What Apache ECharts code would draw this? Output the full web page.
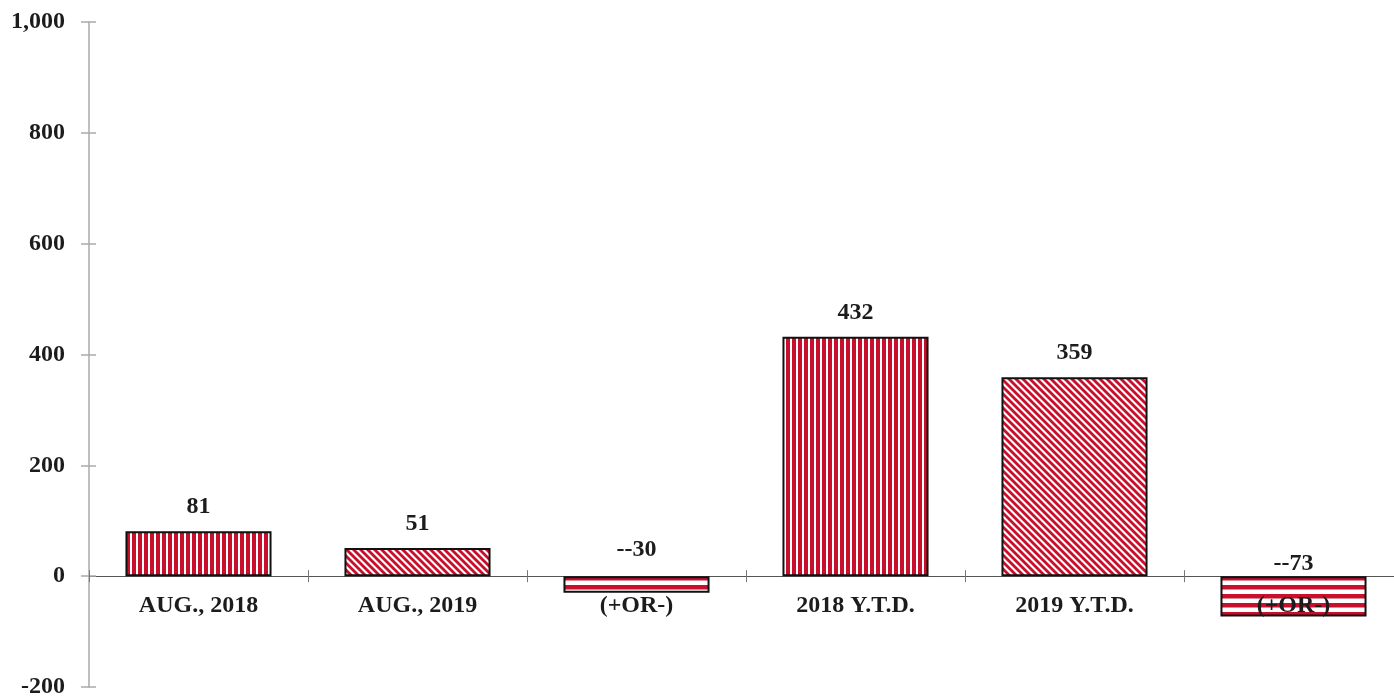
<!DOCTYPE html>
<html>
<head>
<meta charset="utf-8">
<script src="https://cdn.jsdelivr.net/npm/echarts@6/dist/echarts.min.js"></script>
<style>
html,body{margin:0;padding:0;background:#fff;}
#chart{width:1394px;height:698px;}
</style>
</head>
<body>
<div id="chart"></div>
<script>
const categories = ['AUG., 2018', 'AUG., 2019', '(+OR-)', '2018 Y.T.D.', '2019 Y.T.D.', '(+OR-)'];
const values = [81, 51, -30, 432, 359, -73];
const yTicks = { min: -200, max: 1000, interval: 200 };
const patternKinds = ['vertical', 'diagonal', 'horizontal', 'vertical', 'diagonal', 'horizontal'];

const RED = '#c80f2c';
function makePattern(kind) {
  const c = document.createElement('canvas');
  let ctx;
  if (kind === 'vertical') {
    c.width = 6; c.height = 6; ctx = c.getContext('2d');
    ctx.fillStyle = '#fff'; ctx.fillRect(0, 0, 6, 6);
    ctx.fillStyle = RED; ctx.fillRect(0, 0, 4, 6);
  } else if (kind === 'horizontal') {
    c.width = 6; c.height = 9; ctx = c.getContext('2d');
    ctx.fillStyle = '#fff'; ctx.fillRect(0, 0, 6, 9);
    ctx.fillStyle = RED; ctx.fillRect(0, 0, 6, 4.5);
  } else {
    c.width = 7; c.height = 7; ctx = c.getContext('2d');
    ctx.fillStyle = '#fff'; ctx.fillRect(0, 0, 7, 7);
    ctx.strokeStyle = RED; ctx.lineWidth = 2.8;
    for (let k = -1; k <= 1; k++) {
      ctx.beginPath();
      ctx.moveTo(-7, -7 + k * 7);
      ctx.lineTo(14, 14 + k * 7);
      ctx.stroke();
    }
  }
  return { image: c, repeat: 'repeat' };
}

const FONT = "'Liberation Serif', 'Times New Roman', serif";
const TEXT = '#1c1c1c';
const chart = echarts.init(document.getElementById('chart'), null, { renderer: 'canvas' });

const negDistance = [0, 0, 14, 0, 0, 0];
const data = values.map((v, i) => ({
  value: v,
  itemStyle: { color: makePattern(patternKinds[i]) },
  label: v < 0 ? { position: 'top', distance: negDistance[i] } : {}
}));

chart.setOption({
  animation: false,
  grid: { left: 89, right: -9, top: 22, bottom: 11, containLabel: false, outerBoundsMode: 'none' },
  xAxis: [{
    type: 'category',
    data: categories,
    position: 'bottom',
    axisLine: { onZero: true, lineStyle: { color: '#555', width: 1.2 } },
    axisTick: { show: true, inside: false, length: 6, lineStyle: { color: '#777' } },
    axisLabel: { show: false }
  }, {
    type: 'category',
    data: categories,
    position: 'bottom',
    axisLine: { show: false, onZero: true },
    axisTick: { show: true, inside: true, length: 6, lineStyle: { color: '#777' } },
    axisLabel: { show: false }
  }],
  yAxis: [{
    type: 'value',
    min: yTicks.min, max: yTicks.max, interval: yTicks.interval,
    splitLine: { show: false },
    axisLine: { show: true, lineStyle: { color: '#aaa', width: 1.5 } },
    axisTick: { show: true, inside: false, length: 8, lineStyle: { color: '#aaa', width: 1.5 } },
    axisLabel: {
      margin: 24, fontFamily: FONT, fontWeight: 'bold', fontSize: 24, color: TEXT,
      formatter: v => v.toLocaleString('en-US')
    }
  }, {
    type: 'value',
    position: 'left',
    min: yTicks.min, max: yTicks.max, interval: yTicks.interval,
    splitLine: { show: false },
    axisLine: { show: false },
    axisTick: { show: true, inside: true, length: 7, lineStyle: { color: '#aaa', width: 1.5 } },
    axisLabel: { show: false }
  }],
  series: [{
    type: 'bar',
    xAxisIndex: 0,
    yAxisIndex: 0,
    barCategoryGap: '33.3%',
    data: data,
    itemStyle: { borderColor: '#111', borderWidth: 2 },
    label: {
      show: true,
      position: 'top',
      distance: 12,
      fontFamily: FONT, fontWeight: 'bold', fontSize: 24, color: TEXT,
      formatter: p => (p.value < 0 ? '-' + p.value : String(p.value))
    }
  }, {
    // category names, anchored at the zero line just below the axis
    type: 'scatter',
    xAxisIndex: 0,
    yAxisIndex: 0,
    z: 10,
    symbolSize: 0,
    silent: true,
    itemStyle: { opacity: 1 },
    data: categories.map(() => 0),
    label: {
      show: true,
      position: 'bottom',
      distance: 18,
      opacity: 1,
      fontFamily: FONT, fontWeight: 'bold', fontSize: 24, color: TEXT,
      formatter: p => categories[p.dataIndex]
    }
  }]
});
</script>
</body>
</html>
